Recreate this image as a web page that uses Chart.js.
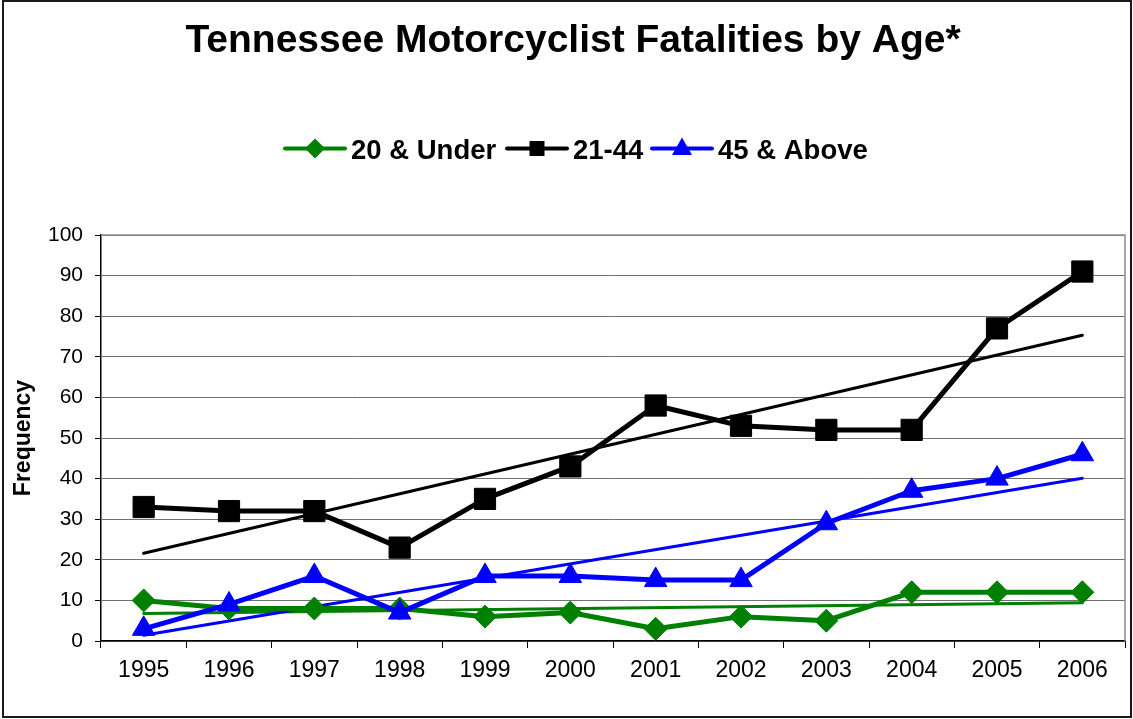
<!DOCTYPE html>
<html>
<head>
<meta charset="utf-8">
<script src="https://cdn.jsdelivr.net/npm/chart.js@4/dist/chart.umd.min.js"></script>
<style>
  html, body { margin: 0; padding: 0; background: #fff; }
  #wrap { width: 1133px; height: 719px; position: relative; }
</style>
</head>
<body>
<div id="wrap"><canvas id="c" width="1133" height="719"></canvas></div>
<script>
// ---- data ----
const titleText = 'Tennessee Motorcyclist Fatalities by Age*';
const years = ['1995','1996','1997','1998','1999','2000','2001','2002','2003','2004','2005','2006'];
const under20 = [10, 8, 8, 8, 6, 7, 3, 6, 5, 12, 12, 12];
const age21to44 = [33, 32, 32, 23, 35, 43, 58, 53, 52, 52, 77, 91];
const age45up = [3, 9, 16, 7, 16, 16, 15, 15, 29, 37, 40, 46];
// linear trendlines: values at first and last year
const under20Trend = [6.8, null, null, null, null, null, null, null, null, null, null, 9.4];
const age21to44Trend = [21.6, null, null, null, null, null, null, null, null, null, null, 75.3];
const age45upTrend = [1.4, null, null, null, null, null, null, null, null, null, null, 40.1];
const yTicks = [0, 10, 20, 30, 40, 50, 60, 70, 80, 90, 100];
const seriesNames = ['20 & Under', '21-44', '45 & Above'];

const GREEN = '#008000', BLACK = '#000000', BLUE = '#0000FF';
const FONT = '"Liberation Sans", Arial, Helvetica, sans-serif';

const decorPlugin = {
  id: 'decor',
  beforeDatasetsDraw(chart) {
    const { ctx, chartArea: a } = chart;
    ctx.save();
    ctx.strokeStyle = '#8c8c8c';
    ctx.lineWidth = 1.5;
    ctx.beginPath();
    ctx.moveTo(a.left, a.top);
    ctx.lineTo(a.right, a.top);
    ctx.lineTo(a.right, a.bottom);
    ctx.stroke();
    ctx.restore();
  },
  afterDraw(chart) {
    const ctx = chart.ctx;
    ctx.save();
    // outer frame
    ctx.strokeStyle = '#1a1a1a';
    ctx.lineWidth = 2;
    ctx.strokeRect(3, 1, 1128, 716);
    // title
    ctx.fillStyle = '#000';
    ctx.font = 'bold 39px ' + FONT;
    ctx.textAlign = 'center';
    ctx.textBaseline = 'alphabetic';
    ctx.fillText(titleText, 573, 52);
    // legend
    const items = [
      { name: seriesNames[0], color: GREEN, style: 'diamond', x: 285 },
      { name: seriesNames[1], color: BLACK, style: 'square', x: 507 },
      { name: seriesNames[2], color: BLUE, style: 'triangle', x: 652 }
    ];
    const ly = 148.5;
    items.forEach(it => {
      ctx.strokeStyle = it.color;
      ctx.fillStyle = it.color;
      ctx.lineWidth = 4;
      ctx.lineCap = 'round';
      ctx.beginPath();
      ctx.moveTo(it.x, ly);
      ctx.lineTo(it.x + 60, ly);
      ctx.stroke();
      const cx = it.x + 30;
      ctx.beginPath();
      if (it.style === 'diamond') {
        ctx.moveTo(cx, ly - 10); ctx.lineTo(cx + 10, ly); ctx.lineTo(cx, ly + 10); ctx.lineTo(cx - 10, ly);
      } else if (it.style === 'square') {
        ctx.rect(cx - 7.5, ly - 7.5, 15, 15);
      } else {
        ctx.moveTo(cx, ly - 11); ctx.lineTo(cx + 10, ly + 6.5); ctx.lineTo(cx - 10, ly + 6.5);
      }
      ctx.closePath();
      ctx.fill();
      ctx.fillStyle = '#000';
      ctx.font = 'bold 27.5px ' + FONT;
      ctx.textAlign = 'left';
      ctx.textBaseline = 'alphabetic';
      ctx.fillText(it.name, it.x + 66, 159);
    });
    ctx.restore();
  }
};

const dataLine = (label, data, color, style, radius, order) => ({
  label, data,
  borderColor: color, backgroundColor: color,
  borderWidth: 5, pointStyle: style, pointRadius: radius, pointHoverRadius: radius,
  pointBorderWidth: 1, pointBorderColor: color, pointBackgroundColor: color,
  tension: 0, fill: false, borderJoinStyle: 'round', borderCapStyle: 'round', order
});
const trendLine = (label, data, color, order) => ({
  label, data,
  borderColor: color, borderWidth: 3, pointRadius: 0, pointHoverRadius: 0,
  spanGaps: true, tension: 0, fill: false, borderCapStyle: 'round', order
});

new Chart(document.getElementById('c'), {
  type: 'line',
  data: {
    labels: years,
    datasets: [
      dataLine(seriesNames[0], under20, GREEN, 'rectRot', 11.5, 3),
      dataLine(seriesNames[1], age21to44, BLACK, 'rect', 15, 2),
      dataLine(seriesNames[2], age45up, BLUE, 'triangle', 13, 1),
      trendLine('Trend 20 & Under', under20Trend, GREEN, 6),
      trendLine('Trend 21-44', age21to44Trend, BLACK, 5),
      trendLine('Trend 45 & Above', age45upTrend, BLUE, 4)
    ]
  },
  options: {
    responsive: false,
    animation: false,
    devicePixelRatio: 1,
    layout: { autoPadding: false, padding: { top: 235, left: 0, right: 8, bottom: 0 } },
    plugins: {
      legend: { display: false },
      title: { display: false },
      tooltip: { enabled: false }
    },
    scales: {
      x: {
        type: 'category',
        offset: true,
        grid: { offset: true, drawOnChartArea: false, drawTicks: true, tickLength: 7, color: '#000', tickColor: '#000', lineWidth: 1 },
        border: { display: true, color: '#000', width: 1.5 },
        ticks: { color: '#000', font: { family: FONT, size: 23 }, padding: 9, maxRotation: 0, autoSkip: false },
        afterFit(scale) { scale.height = 78; scale.paddingLeft = 0; scale.paddingRight = 0; }
      },
      y: {
        min: 0, max: 100,
        afterBuildTicks(scale) { scale.ticks = yTicks.map(v => ({ value: v })); },
        grid: { color: '#707070', lineWidth: 1, drawTicks: true, tickLength: 6, tickColor: '#000' },
        border: { display: true, color: '#000', width: 1.5 },
        ticks: { color: '#000', font: { family: FONT, size: 21 }, padding: 12 },
        title: { display: true, text: 'Frequency', color: '#000', font: { family: FONT, size: 23, weight: 'bold' }, padding: { top: 10, bottom: 0 } },
        afterFit(scale) { scale.width = 101; scale.paddingTop = 0; scale.paddingBottom = 0; }
      }
    }
  },
  plugins: [decorPlugin]
});
</script>
</body>
</html>
